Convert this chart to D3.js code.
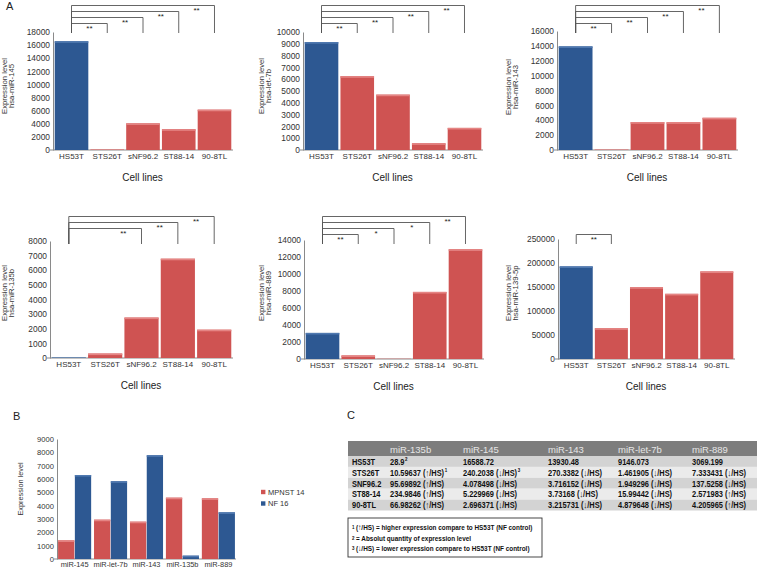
<!DOCTYPE html>
<html><head><meta charset="utf-8">
<script src="https://cdn.jsdelivr.net/npm/d3@7"></script>
<style>body{margin:0;background:#fff} svg{display:block;font-family:"Liberation Sans",Arial,sans-serif}</style>
</head><body><svg id="c" width="758" height="570"></svg>
<script>
// ---------- data ----------
const cellLines = ["HS53T","STS26T","sNF96.2","ST88-14","90-8TL"];
const mir145  = [16588.72, 69.06, 4067.4, 3171.9, 6152.2];
const let7b   = [9146.073, 6256.4, 4692.0, 571.8, 1874.3];
const mir143  = [13930.48, 51.5, 3748.6, 3733.0, 4332.0];
const mir135b = [28.9, 306.2, 2765.7, 6790.5, 1935.8];
const mir889  = [3069.199, 418.5, 22.3, 7893.9, 12908.9];
const mir139  = [192900, 64100, 149700, 135800, 182400];
const yTitles = ["hsa-miR-145","hsa-let-7b","hsa-miR-143","hsa-miR-135b","hsa-miR-889","hsa-miR-139-5p"];
const yMax  = [18000, 10000, 16000, 8000, 14000, 250000];
const yStep = [2000, 1000, 2000, 1000, 2000, 50000];
const sig145  = [["STS26T","**"],["sNF96.2","**"],["ST88-14","**"],["90-8TL","**"]];
const sigLet7 = [["STS26T","**"],["sNF96.2","**"],["ST88-14","**"],["90-8TL","**"]];
const sig143  = [["STS26T","**"],["sNF96.2","**"],["ST88-14","**"],["90-8TL","**"]];
const sig135b = [["sNF96.2","**"],["ST88-14","**"],["90-8TL","**"]];
const sig889  = [["STS26T","**"],["sNF96.2","*"],["ST88-14","*"],["90-8TL","**"]];
const sig139  = [["STS26T","**"]];

const mirB = ["miR-145","miR-let-7b","miR-143","miR-135b","miR-889"];
const seriesB = ["MPNST 14","NF 16"];
const mpnst14 = [1400, 2950, 2800, 4600, 4550];
const nf16    = [6300, 5830, 7780, 250, 3500];
const yTicksB = [0,1000,2000,3000,4000,5000,6000,7000,8000,9000];

const tableCols = ["miR-135b","miR-145","miR-143","miR-let-7b","miR-889"];
const tableRows = ["HS53T","STS26T","SNF96.2","ST88-14","90-8TL"];
const tableCells = [
  ["28.9","16588.72","13930.48","9146.073","3069.199"],
  ["10.59637 (\u2191/HS)","240.2038 (\u2193/HS)","270.3382 (\u2193/HS)","1.461905 (\u2193/HS)","7.333431 (\u2193/HS)"],
  ["95.69892 (\u2191/HS)","4.078498 (\u2193/HS)","3.716152 (\u2193/HS)","1.949296 (\u2193/HS)","137.5258 (\u2193/HS)"],
  ["234.9846 (\u2191/HS)","5.229969 (\u2193/HS)","3.73168 (\u2193/HS)","15.99442 (\u2193/HS)","2.571983 (\u2191/HS)"],
  ["66.98262 (\u2191/HS)","2.696371 (\u2193/HS)","3.215731 (\u2193/HS)","4.879648 (\u2193/HS)","4.205965 (\u2191/HS)"]
];
const tableSup = [["2","","","",""],["1","3","","",""],["","","","",""],["","","","",""],["","","","",""]];
const footnotes = [["1","(\u2191/HS) = higher expression compare to HS53T (NF control)"],
                   ["2","= Absolut quantity of expression level"],
                   ["3","(\u2193/HS) = lower expression compare to HS53T (NF control)"]];

// ---------- style ----------
const BLUE="#2d5892", RED="#cf5352", BLUE_T="#5079b0", RED_T="#e58584";
const AX="#8a8a8a", TXT="#333";
const svg = d3.select("#c");

const layout = [
  {l:53, r:232, t:32, b:150, base:33, tx:[4.5,11.5], ty:86},
  {l:303,r:482, t:32, b:150, base:33, tx:[261,268], ty:86},
  {l:557,r:737, t:31, b:150, base:33, tx:[508,515], ty:87},
  {l:50, r:232, t:241,b:358, base:244,tx:[4,11],    ty:293},
  {l:304,r:483, t:240,b:359, base:244,tx:[261,268], ty:293},
  {l:558,r:734, t:239,b:359, base:244,tx:[508,515], ty:293}
];
const panelVals = [mir145, let7b, mir143, mir135b, mir889, mir139];
const panelSig  = [sig145, sigLet7, sig143, sig135b, sig889, sig139];

function styleAxis(g, fs){
  g.attr("font-family",null).attr("font-size",null);
  g.selectAll("text").attr("font-size",fs).attr("fill",TXT);
}

panelVals.forEach((vals, idx) => {
  const L = layout[idx];
  const g = svg.append("g");
  const x = d3.scaleBand().domain(cellLines).range([L.l+1, L.r]).paddingInner(0.06).paddingOuter(0.02);
  const y = d3.scaleLinear().domain([0, yMax[idx]]).range([L.b, L.t]);
  const ticks = d3.range(0, yMax[idx] + 1, yStep[idx]);

  const gy = g.append("g").attr("transform",`translate(${L.l},0)`)
    .call(d3.axisLeft(y).tickValues(ticks).tickSize(0).tickPadding(3).tickFormat(d3.format("d")));
  gy.select(".domain").attr("stroke",AX);
  styleAxis(gy, 8.4);

  const gx = g.append("g").attr("transform",`translate(0,${L.b})`)
    .call(d3.axisBottom(x).tickSize(0).tickPadding(3));
  gx.select(".domain").remove();
  styleAxis(gx, 8);
  g.append("line").attr("x1",L.l-3).attr("x2",L.r+1).attr("y1",L.b).attr("y2",L.b).attr("stroke",AX);

  const bw = x.bandwidth();
  g.selectAll("rect.bar").data(vals).join("rect").attr("class","bar")
    .attr("x",(d,i)=>x(cellLines[i])).attr("width",bw)
    .attr("y",d=>y(d)).attr("height",d=>L.b - y(d))
    .attr("fill",(d,i)=> i===0 ? BLUE : RED);
  g.selectAll("rect.top").data(vals).join("rect").attr("class","top")
    .attr("x",(d,i)=>x(cellLines[i])).attr("width",bw)
    .attr("y",d=>y(d)).attr("height",d=>Math.min(1.6, L.b - y(d)))
    .attr("fill",(d,i)=> i===0 ? BLUE_T : RED_T);

  [ "Expression level", yTitles[idx] ].forEach((t,k)=>{
    g.append("text").attr("transform",`translate(${L.tx[k]},${L.ty}) rotate(-90)`)
      .attr("text-anchor","middle").attr("dominant-baseline","central")
      .attr("font-size",7.7).attr("fill",TXT).text(t);
  });
  g.append("text").attr("x",(L.l+L.r)/2).attr("y",L.b+31).attr("text-anchor","middle")
    .attr("font-size",10).attr("fill","#222").text("Cell lines");

  const cx = c => x(c) + bw/2;
  panelSig[idx].forEach(([target, lab]) => {
    const level = cellLines.indexOf(target) - 1;
    const yl = L.base - 9.5 - 6*level;
    g.append("path").attr("fill","none").attr("stroke","#555").attr("stroke-width",0.9)
      .attr("d",`M${cx("HS53T")},${L.base}V${yl}H${cx(target)}V${L.base}`);
    g.append("text").attr("x",cx(target) - x.step()/2).attr("y",yl+7.8)
      .attr("text-anchor","middle").attr("font-size",8).attr("fill","#222").text(lab);
  });
});

svg.append("text").attr("x",6).attr("y",10).attr("font-size",11).attr("fill","#222").text("A");
svg.append("text").attr("x",13).attr("y",420).attr("font-size",11).attr("fill","#222").text("B");
svg.append("text").attr("x",347).attr("y",419).attr("font-size",11).attr("fill","#222").text("C");

// ---------- panel B ----------
(function(){
  const L = {l:57, r:236, t:439, b:559};
  const g = svg.append("g");
  const x0 = d3.scaleBand().domain(mirB).range([L.l, L.r]).paddingInner(0.08).paddingOuter(0.03);
  const x1 = d3.scaleBand().domain(seriesB).range([0, x0.bandwidth()]).paddingInner(0.03);
  const y = d3.scaleLinear().domain([0, 9000]).range([L.b, L.t]);
  const gy = g.append("g").attr("transform",`translate(${L.l},0)`)
    .call(d3.axisLeft(y).tickValues(yTicksB).tickSize(0).tickPadding(3).tickFormat(d3.format("d")));
  gy.select(".domain").attr("stroke",AX);
  styleAxis(gy, 7.6);
  const gx = g.append("g").attr("transform",`translate(0,${L.b})`)
    .call(d3.axisBottom(x0).tickSize(0).tickPadding(3));
  gx.select(".domain").remove();
  styleAxis(gx, 7.4);
  g.append("line").attr("x1",L.l-3).attr("x2",L.r).attr("y1",L.b).attr("y2",L.b).attr("stroke",AX);

  const series = [mpnst14, nf16];
  const cols = [RED, BLUE], tops = [RED_T, BLUE_T];
  series.forEach((vals, s) => {
    g.selectAll(`rect.s${s}`).data(vals).join("rect").attr("class",`s${s}`)
      .attr("x",(d,i)=>x0(mirB[i]) + x1(seriesB[s])).attr("width",x1.bandwidth())
      .attr("y",d=>y(d)).attr("height",d=>L.b - y(d)).attr("fill",cols[s]);
    g.selectAll(`rect.t${s}`).data(vals).join("rect").attr("class",`t${s}`)
      .attr("x",(d,i)=>x0(mirB[i]) + x1(seriesB[s])).attr("width",x1.bandwidth())
      .attr("y",d=>y(d)).attr("height",d=>Math.min(1.6, L.b - y(d))).attr("fill",tops[s]);
  });
  g.append("text").attr("transform",`translate(20,489) rotate(-90)`).attr("text-anchor","middle")
    .attr("dominant-baseline","central").attr("font-size",7.3).attr("fill",TXT).text("Expression level");

  const lg = g.selectAll("g.leg").data(seriesB).join("g").attr("class","leg")
    .attr("transform",(d,i)=>`translate(261,${492 + i*11.5})`);
  lg.append("rect").attr("x",0).attr("y",-2.2).attr("width",4.4).attr("height",4.4).attr("fill",(d,i)=>cols[i]);
  lg.append("text").attr("x",7).attr("y",0).attr("dominant-baseline","central")
    .attr("font-size",7.5).attr("fill",TXT).text(d=>d);
})();

// ---------- panel C table ----------
(function(){
  const g = svg.append("g");
  const tx0 = 348, tx1 = 757, hy0 = 441, hy1 = 456, rh = 10.9;
  const colX = [390, 463, 548, 618, 692];
  const SX = 0.8;
  g.append("rect").attr("x",tx0).attr("y",hy0).attr("width",tx1-tx0).attr("height",hy1-hy0).attr("fill","#7d7d7d");
  g.selectAll("text.hd").data(tableCols).join("text").attr("class","hd")
    .attr("x",(d,i)=>colX[i]).attr("y",(hy0+hy1)/2+0.5).attr("dominant-baseline","central")
    .attr("font-size",9.5).attr("fill","#e6e6e6").text(d=>d);
  const cellText = (x, y, fs) => g.append("text")
    .attr("transform",`translate(${x},${y}) scale(${SX},1)`).attr("dominant-baseline","central")
    .attr("font-weight","bold").attr("font-size",fs).attr("fill","#111");
  tableRows.forEach((r, ri) => {
    const y0 = hy1 + ri*rh;
    g.append("rect").attr("x",tx0).attr("y",y0).attr("width",tx1-tx0).attr("height",rh)
      .attr("fill", ri%2===0 ? "#d3d3d3" : "#ebebeb");
    cellText(352, y0+rh/2, 9.3).text(r);
    tableCells[ri].forEach((c, ci) => {
      const t = cellText(colX[ci], y0+rh/2, 9.3);
      t.append("tspan").text(c);
      if (tableSup[ri][ci]) t.append("tspan").attr("font-size",5.5).attr("dy",-3).attr("dx",0.8).text(tableSup[ri][ci]);
    });
  });
  g.append("rect").attr("x",348).attr("y",518).attr("width",194).attr("height",39)
    .attr("fill","#fff").attr("stroke","#333").attr("stroke-width",0.9);
  footnotes.forEach(([n, t], i) => {
    const tt = cellText(352, 527 + i*10.3, 8);
    tt.append("tspan").attr("font-size",5.5).text(n);
    tt.append("tspan").attr("dx",2).text(t);
  });
})();
</script></body></html>
